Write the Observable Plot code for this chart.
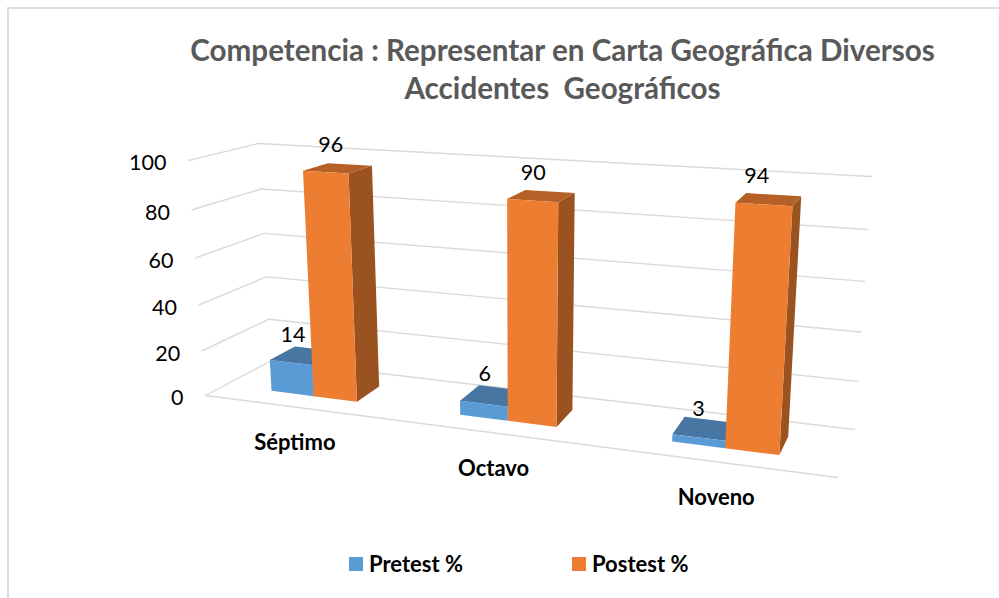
<!DOCTYPE html>
<html><head><meta charset="utf-8">
<script src="https://cdn.jsdelivr.net/npm/d3@7"></script>
<script src="https://cdn.jsdelivr.net/npm/@observablehq/plot@0.6"></script>
<style>
html,body{margin:0;padding:0;background:#fff;overflow:hidden;width:999px;height:598px}
#frame{position:absolute;left:7px;top:7px;width:1100px;height:700px;border:2px solid #DEDEDE;box-sizing:border-box}
#wrap{position:absolute;left:0;top:0;width:999px;height:598px;font-family:Lato,sans-serif}
#title{position:absolute;left:130px;width:865px;top:31px;text-align:center;font-weight:700;font-size:29.6px;line-height:38px;color:#595959;white-space:pre}
#chart{position:absolute;left:0;top:118px}
#legend{position:absolute;top:550px;left:0;width:999px;height:28px;font-weight:700;font-size:22px;color:#000}
#legend span{position:absolute;top:0;line-height:28px;white-space:pre}
#legend i{position:absolute;top:7px;width:14px;height:14px}
</style></head><body>
<div id="frame"></div>
<div id="wrap">
<div id="title"></div>
<div id="chart"></div>
<div id="legend"></div>
</div>
<script>
// Data
const titleLines = ["Competencia : Representar en Carta Geográfica Diversos", "Accidentes  Geográficos"];
const categories = ["Séptimo", "Octavo", "Noveno"];
const seriesNames = ["Pretest %", "Postest %"];
const pretest = [14, 6, 3];
const postest = [96, 90, 94];
const yTicks = [0, 20, 40, 60, 80, 100];

// Colours per series: front, top, side
const palette = [
  {front: "#5B9BD5", top: "#4676A1", side: "#3F6B93"},
  {front: "#ED7D31", top: "#B56026", side: "#9A5220"}
];
const gridColor = "#D9D9D9";

// 3D box of the plot area, projected on the page
const box = {
  flb: [205, 395], flt: [188, 160],
  frb: [837, 477], frt: [854.5, 200],
  blb: [271, 360], blt: [258, 143],
  brb: [854, 429], brt: [871, 176]
};
const mix = (a, b, t) => [a[0] + (b[0] - a[0]) * t, a[1] + (b[1] - a[1]) * t];
const easeU = s => s * (0.83 + 0.17 * s);             // perspective along categories
const easeW = w => (w / 100) * (0.94 + 0.06 * w / 100); // perspective along value
function P(s, v, w) {
  const u = easeU(s), t = easeW(w);
  const bottom = mix(mix(box.flb, box.frb, u), mix(box.blb, box.brb, u), v);
  const top = mix(mix(box.flt, box.frt, u), mix(box.blt, box.brt, u), v);
  const p = mix(bottom, top, t);
  return {x: p[0], y: p[1]};
}

const vFront = 0.3, vBack = 0.7, barW = 0.078;
// Label placement relative to the middle of each bar top, per series then category
const labelDx = [[-10, -8, -6], [-7, -8, -12]];
const labelDy = [[-21, -22, -20], [-23, -23, -23]];
const faces = [];
const dataLabels = [];
categories.forEach((c, i) => {
  const centre = (i + 0.5) / 3;
  [pretest, postest].forEach((vals, k) => {
    const s0 = centre + (k - 1) * barW, s1 = s0 + barW, w = vals[i], col = palette[k];
    faces.push({color: col.side, pts: [P(s1,vFront,0), P(s1,vBack,0), P(s1,vBack,w), P(s1,vFront,w)]});
    faces.push({color: col.top, pts: [P(s0,vFront,w), P(s1,vFront,w), P(s1,vBack,w), P(s0,vBack,w)]});
    faces.push({color: col.front, pts: [P(s0,vFront,0), P(s1,vFront,0), P(s1,vFront,w), P(s0,vFront,w)]});
    const a = P((s0 + s1) / 2, 0.5, w);
    dataLabels.push({x: a.x + labelDx[k][i], y: a.y + labelDy[k][i], text: String(w)});
  });
});

const gridLines = [];
yTicks.forEach(t => {
  gridLines.push([P(0,0,t), P(0,1,t)]);
  gridLines.push([P(0,1,t), P(1,1,t)]);
});
gridLines.push([P(0,0,0), P(1,0,0)]);

const tickLabels = yTicks.map(t => { const p = P(0,0,t); return {x: p.x - 22, y: p.y + 3, text: String(t)}; });
const catLabels = categories.map((c, i) => { const p = P((i + 0.5) / 3, 0, 0); return {x: p.x - 1, y: p.y + 36, text: c}; });

const svgTop = 118, W = 999, H = 430;
const plot = Plot.plot({
  width: W, height: H,
  margin: 0,
  x: {domain: [0, W], range: [0, W], axis: null},
  y: {domain: [svgTop + H, svgTop], range: [H, 0], axis: null},
  style: {background: "transparent", fontFamily: "Lato, sans-serif", overflow: "visible"},
  marks: [
    ...gridLines.map(l => Plot.line(l, {x: "x", y: "y", stroke: gridColor, strokeWidth: 1.4})),
    ...faces.map(f => Plot.line(f.pts, {x: "x", y: "y", fill: f.color, stroke: "none"})),
    Plot.text(tickLabels, {x: "x", y: "y", text: "text", textAnchor: "end", fontSize: 21.5, fill: "#000"}),
    Plot.text(dataLabels, {x: "x", y: "y", text: "text", fontSize: 21.5, fill: "#000"}),
    Plot.text(catLabels, {x: "x", y: "y", text: "text", fontSize: 22, fontWeight: 700, fill: "#000"})
  ]
});
document.getElementById("chart").appendChild(plot);
document.getElementById("title").textContent = titleLines.join("\n");

const legend = document.getElementById("legend");
seriesNames.forEach((name, k) => {
  const sw = document.createElement("i");
  sw.style.left = (349 + k * 223) + "px";
  sw.style.background = palette[k].front;
  const t = document.createElement("span");
  t.style.left = (369 + k * 223) + "px";
  t.textContent = name;
  legend.append(sw, t);
});
</script>
</body></html>
